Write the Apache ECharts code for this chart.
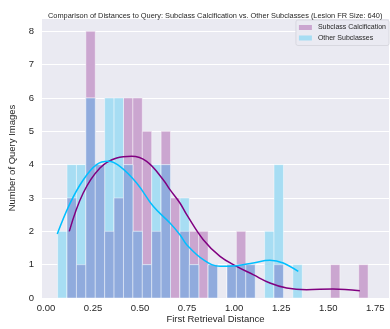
<!DOCTYPE html>
<html>
<head>
<meta charset="utf-8">
<script src="https://cdn.jsdelivr.net/npm/echarts@6/dist/echarts.min.js"></script>
<style>
  html, body { margin: 0; padding: 0; background: #ffffff; }
  #chart { width: 390px; height: 329px; }
</style>
</head>
<body>
<div id="chart"></div>
<script>
// histogram bins (shared by both groups)
const binStart = 0.062;
const binWidth = 0.05;
const calcCounts  = [0, 3, 1, 8, 4, 2, 3, 6, 6, 5, 2, 5, 3, 2, 2, 2, 1, 0, 1, 2, 1, 0, 0, 1, 0, 0, 0, 0, 0, 1, 0, 0, 1];
const otherCounts = [2, 4, 4, 6, 4, 6, 6, 4, 2, 1, 4, 4, 0, 3, 1, 0, 1, 0, 1, 1, 1, 0, 2, 4, 0, 1, 0, 0, 0, 0, 0, 0, 0];

// kde curves
const calcKdeX = [0.124, 0.198, 0.287, 0.376, 0.455, 0.535, 0.623, 0.659, 0.712, 0.748, 0.836, 0.925, 1.013, 1.101, 1.190, 1.279, 1.385, 1.525, 1.668];
const calcKdeY = [2.0, 3.15, 3.9, 4.2, 4.25, 4.1, 3.55, 3.25, 2.85, 2.5, 1.75, 1.25, 0.95, 0.7, 0.45, 0.3, 0.25, 0.27, 0.22];
const otherKdeX = [0.060, 0.128, 0.198, 0.269, 0.331, 0.393, 0.482, 0.570, 0.659, 0.712, 0.748, 0.836, 0.925, 1.013, 1.101, 1.190, 1.261, 1.341];
const otherKdeY = [1.92, 2.84, 3.54, 4.0, 4.1, 3.95, 3.45, 2.75, 2.25, 1.9, 1.6, 1.15, 0.95, 0.97, 1.05, 1.13, 1.05, 0.8];

const xTicks = [0, 0.25, 0.5, 0.75, 1.0, 1.25, 1.5, 1.75];

const COLORS = {
  bg: '#eaeaf2',
  calcBar: '#cba6d0',
  otherBar: '#a7ddf3',
  overlap: '#90abdd',
  calcLine: '#800080',
  otherLine: '#00bfff',
  text: '#262626',
};
const FONT = 'Liberation Sans';

function binData(counts) {
  return counts.map((c, i) => [binStart + i * binWidth, binStart + (i + 1) * binWidth, c]);
}
const overlapCounts = calcCounts.map((c, i) => Math.min(c, otherCounts[i]));

function renderBar(params, api) {
  const h = api.value(2);
  if (!h) return null;
  const p0 = api.coord([api.value(0), h]);
  const p1 = api.coord([api.value(1), 0]);
  return {
    type: 'rect',
    shape: { x: p0[0], y: p0[1], width: p1[0] - p0[0], height: p1[1] - p0[1] },
    style: { fill: api.visual('color'), stroke: 'rgba(255,255,255,0.55)', lineWidth: 0.8 },
  };
}

const chart = echarts.init(document.getElementById('chart'));
chart.setOption({
  animation: false,
  backgroundColor: '#ffffff',
  textStyle: { fontFamily: FONT },
  title: {
    text: 'Comparison of Distances to Query: Subclass Calcification vs. Other Subclasses (Lesion FR Size: 640)',
    left: 43,
    top: 7,
    textStyle: { fontSize: 7.4, fontWeight: 'normal', color: COLORS.text, fontFamily: FONT },
  },
  legend: {
    data: ['Subclass Calcification', 'Other Subclasses'],
    orient: 'vertical',
    right: 1,
    top: 20,
    icon: 'rect',
    itemWidth: 13,
    itemHeight: 5,
    itemGap: 3.5,
    padding: [4, 3, 4, 3],
    backgroundColor: COLORS.bg,
    borderColor: '#d8d8e0',
    borderWidth: 1,
    borderRadius: 2,
    textStyle: { fontSize: 7, color: COLORS.text, fontFamily: FONT, padding: [0, 0, 0, 1] },
  },
  grid: {
    left: 42, right: 1, top: 18, bottom: 31,
    outerBoundsMode: 'none',
    containLabel: false,
    show: true, backgroundColor: COLORS.bg, borderWidth: 0,
  },
  xAxis: {
    type: 'value',
    min: -0.021,
    max: 1.823,
    name: 'First Retrieval Distance',
    nameLocation: 'middle',
    nameGap: 16,
    nameMoveOverlap: false,
    nameTextStyle: { fontSize: 9.5, color: COLORS.text, fontFamily: FONT },
    axisLine: { show: false },
    axisTick: { show: false },
    splitLine: { show: false },
    axisLabel: {
      customValues: xTicks,
      fontSize: 9.5,
      color: COLORS.text,
      margin: 5,
      formatter: (v) => v.toFixed(2),
    },
  },
  yAxis: {
    type: 'value',
    min: 0,
    max: 8.4,
    interval: 1,
    name: 'Number of Query Images',
    nameLocation: 'middle',
    nameGap: 25,
    nameMoveOverlap: false,
    nameTextStyle: { fontSize: 9.5, color: COLORS.text, fontFamily: FONT },
    axisLine: { show: false },
    axisTick: { show: false },
    splitLine: { lineStyle: { color: '#ffffff', width: 1 } },
    axisLabel: { fontSize: 9.5, color: COLORS.text, margin: 8, showMaxLabel: false },
  },
  series: [
    {
      name: 'Subclass Calcification',
      type: 'custom',
      renderItem: renderBar,
      encode: { x: [0, 1], y: 2 },
      itemStyle: { color: COLORS.calcBar },
      data: binData(calcCounts),
      z: 2,
    },
    {
      name: 'Other Subclasses',
      type: 'custom',
      renderItem: renderBar,
      encode: { x: [0, 1], y: 2 },
      itemStyle: { color: COLORS.otherBar },
      data: binData(otherCounts),
      z: 3,
    },
    {
      name: 'overlap',
      type: 'custom',
      renderItem: renderBar,
      encode: { x: [0, 1], y: 2 },
      itemStyle: { color: COLORS.overlap },
      data: binData(overlapCounts),
      z: 4,
    },
    {
      name: 'calc kde',
      type: 'line',
      smooth: 0.4,
      showSymbol: false,
      lineStyle: { color: COLORS.calcLine, width: 1.5 },
      data: calcKdeX.map((x, i) => [x, calcKdeY[i]]),
      z: 5,
    },
    {
      name: 'other kde',
      type: 'line',
      smooth: 0.4,
      showSymbol: false,
      lineStyle: { color: COLORS.otherLine, width: 1.5 },
      data: otherKdeX.map((x, i) => [x, otherKdeY[i]]),
      z: 6,
    },
  ],
});
</script>
</body>
</html>
